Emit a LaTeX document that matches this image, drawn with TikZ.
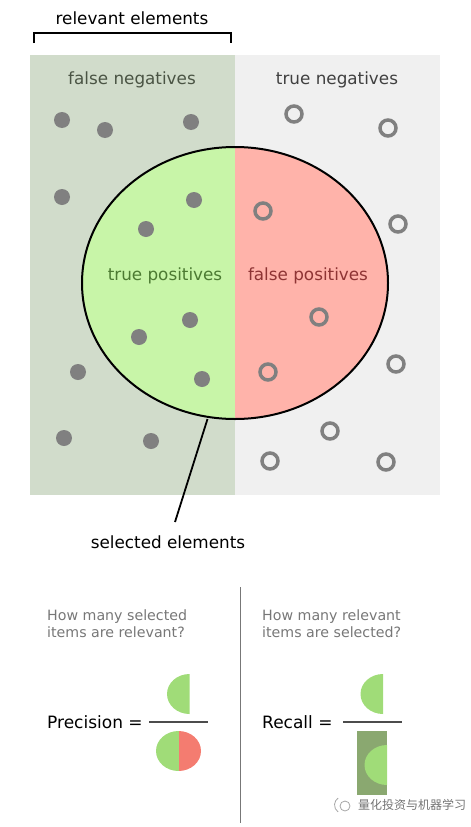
\documentclass[tikz,border=0pt]{standalone}
\usepackage{fontspec}
\setmainfont{DejaVu Sans}
\newfontfamily\cjk{Noto Sans CJK SC}
\definecolor{relbg}{HTML}{D1DCCB}
\definecolor{negbg}{HTML}{F0F0F0}
\definecolor{tpfill}{HTML}{C8F5A8}
\definecolor{fpfill}{HTML}{FFB3AA}
\definecolor{tptext}{HTML}{4C7A32}
\definecolor{fptext}{HTML}{8E3434}
\definecolor{fntext}{HTML}{4A5444}
\definecolor{dotgrey}{HTML}{808080}
\definecolor{qgrey}{HTML}{777777}
\definecolor{smallgreen}{HTML}{A0DC78}
\definecolor{smallred}{HTML}{F47C70}
\definecolor{recbox}{HTML}{8AA870}
\tikzset{
  lbl/.style={font=\fontsize{16.8}{20}\selectfont, inner sep=0pt},
  qlbl/.style={font=\fontsize{14.2}{16.5}\selectfont, text=qgrey, align=left, anchor=north west, inner sep=0pt},
  eqlbl/.style={font=\fontsize{17}{20}\selectfont, anchor=west, inner sep=0pt},
  fdot/.style={circle, fill=dotgrey, minimum size=16pt, inner sep=0pt},
  rdot/.style={circle, draw=dotgrey, line width=3.5pt, minimum size=16pt, inner sep=0pt},
}
\begin{document}
\begin{tikzpicture}[x=1pt,y=-1pt]
\useasboundingbox (0,0) rectangle (471,827);
% backgrounds
\fill[relbg] (30,55) rectangle (235,495);
\fill[negbg] (235,55) rectangle (440,495);
% bracket
\draw[line width=1.6pt] (34,43) -- (34,33) -- (231,33) -- (231,43);
\node[lbl] (relev) at (132,18) {relevant elements};
\node[lbl, text=fntext] (fn) at (132,80) {false negatives};
\node[lbl, text=black!75] (tn) at (337,80) {true negatives};
% ellipse
\begin{scope}
  \clip (235,283) ellipse [x radius=153, y radius=136];
  \fill[tpfill] (80,140) rectangle (235,425);
  \fill[fpfill] (235,140) rectangle (390,425);
\end{scope}
\draw[line width=2pt] (235,283) ellipse [x radius=153, y radius=136];
\coordinate (selpt) at (207.5,419);
\node[lbl, text=tptext] (tp) at (165,276) {true positives};
\node[lbl, text=fptext] (fp) at (308,276) {false positives};
% filled dots
\foreach \i/\x/\y in {1/62/120,2/105/130,3/191/122,4/62/197,5/194/200,6/146/229,7/190/320,8/139/337,9/202/379,10/78/372,11/64/438,12/151/441}
  \node[fdot] (f\i) at (\x,\y) {};
% rings
\foreach \i/\x/\y in {1/294/114,2/388/128,3/263/211,4/398/224,5/319/317,6/268/372,7/396/364,8/330/431,9/270/461,10/386/462}
  \node[rdot] (r\i) at (\x,\y) {};
% pointer
\coordinate (selend) at (175,522);
\draw[line width=1.8pt] (selpt) -- (selend);
\node[lbl] (sel) at (168,542) {selected elements};
% divider
\draw[qgrey, line width=1pt] (240,587) -- (240,823);
% questions
\node[qlbl] (q1) at (47,610) {How many selected\\items are relevant?};
\node[qlbl] (q2) at (262,610) {How many relevant\\items are selected?};
% precision
\node[eqlbl] (prec) at (47,722) {Precision =};
\draw[black!70, line width=1.3pt] (149,722) -- (208,722);
\fill[smallgreen] (189.5,674) arc[start angle=270, end angle=90, x radius=22.5, y radius=20] -- cycle;
\begin{scope}
  \clip (178.5,751) ellipse [x radius=22.5, y radius=20];
  \fill[smallgreen] (150,728) rectangle (178.5,775);
  \fill[smallred] (178.5,728) rectangle (205,775);
\end{scope}
% recall
\node[eqlbl] (rec) at (262,722) {Recall =};
\draw[black!70, line width=1.3pt] (343,722) -- (402,722);
\fill[smallgreen] (383,674) arc[start angle=270, end angle=90, x radius=22.5, y radius=20] -- cycle;
\fill[recbox] (357,731) rectangle (387,795);
\fill[smallgreen] (387,745) arc[start angle=270, end angle=90, x radius=22.5, y radius=20] -- cycle;
% watermark icon
\draw[black!35, line width=0.8pt] (345,806) circle [radius=5];
\draw[black!35, line width=0.8pt] (343,805) ++(125:8.5) arc[start angle=125, end angle=235, radius=8.5];
% watermark
\node[inner sep=0pt, text=black!55, font=\cjk\fontsize{12}{14}\selectfont, anchor=west] (wmt) at (358,805) {量化投资与机器学习};
\end{tikzpicture}
\end{document}
